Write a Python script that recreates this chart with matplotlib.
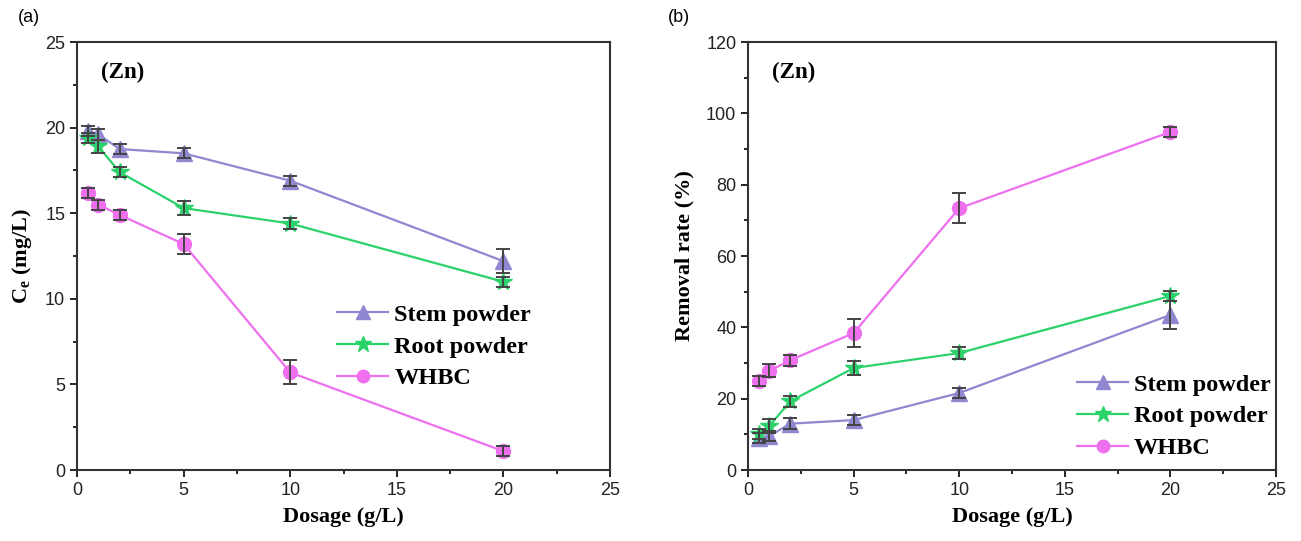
import matplotlib
matplotlib.use("Agg")
import matplotlib.pyplot as plt
from matplotlib.ticker import MultipleLocator

dosage = [0.5, 1, 2, 5, 10, 20]

ce_stem = [19.8, 19.6, 18.75, 18.5, 16.9, 12.2]
ce_stem_err = [0.3, 0.3, 0.3, 0.3, 0.3, 0.7]
ce_root = [19.4, 18.9, 17.4, 15.3, 14.4, 11.0]
ce_root_err = [0.3, 0.4, 0.3, 0.4, 0.35, 0.3]
ce_whbc = [16.2, 15.5, 14.9, 13.2, 5.7, 1.1]
ce_whbc_err = [0.3, 0.3, 0.3, 0.6, 0.7, 0.3]

rr_stem = [9.0, 9.5, 13.0, 14.0, 21.6, 43.5]
rr_stem_err = [1.5, 1.5, 1.5, 1.5, 1.5, 4.0]
rr_root = [10.1, 12.3, 19.3, 28.6, 32.8, 48.8]
rr_root_err = [1.5, 2.0, 1.5, 2.0, 1.8, 1.5]
rr_whbc = [25.0, 27.8, 30.8, 38.4, 73.4, 94.8]
rr_whbc_err = [1.5, 1.8, 1.5, 4.0, 4.2, 1.5]

labels = ["Stem powder", "Root powder", "WHBC"]

c_stem = "#8F87D0"
c_root = "#2BD26A"
c_whbc = "#EE70EE"
ecol = "#444444"

serif = ["Liberation Serif", "DejaVu Serif"]
sans = ["Liberation Sans", "DejaVu Sans"]

fig = plt.figure(figsize=(13.01, 5.41), dpi=100)
ax1 = fig.add_axes([0.0592, 0.1312, 0.4097, 0.7911])
ax2 = fig.add_axes([0.575, 0.1312, 0.4058, 0.7911])

def draw(ax, ys, errs, ylim, ymaj, ylabel):
    styles = [("^", c_stem, 11), ("*", c_root, 13), ("o", c_whbc, 10)]
    for (m, c, ms), y, e, lab in zip(styles, ys, errs, labels):
        ax.errorbar(dosage, y, yerr=e, fmt="none", ecolor=ecol, elinewidth=1.4,
                    capsize=5, capthick=1.4, zorder=3)
        ax.plot(dosage, y, color=c, lw=1.6, marker=m, ms=ms, mfc=c, mec=c,
                label=lab, zorder=2)
    ax.set_xlim(0, 25)
    ax.set_ylim(*ylim)
    ax.xaxis.set_major_locator(MultipleLocator(5))
    ax.xaxis.set_minor_locator(MultipleLocator(2.5))
    ax.yaxis.set_major_locator(MultipleLocator(ymaj))
    ax.yaxis.set_minor_locator(MultipleLocator(ymaj / 2))
    ax.tick_params(which="major", direction="out", length=5, width=1.2,
                   labelsize=13, top=False, right=False)
    ax.tick_params(which="minor", direction="out", length=3, width=1.2,
                   top=False, right=False)
    for lab in ax.get_xticklabels() + ax.get_yticklabels():
        lab.set_family(sans)
        lab.set_color("#222222")
    for s in ax.spines.values():
        s.set_linewidth(1.5)
        s.set_color("#333333")
    ax.set_xlabel("Dosage (g/L)", fontsize=16, fontweight="bold", family=serif, labelpad=6)
    ax.set_ylabel(ylabel, fontsize=16, fontweight="bold", family=serif, labelpad=8)
    ax.text(0.045, 0.93, "(Zn)", transform=ax.transAxes, fontsize=16.5,
            fontweight="bold", family=serif, va="center")

draw(ax1, [ce_stem, ce_root, ce_whbc], [ce_stem_err, ce_root_err, ce_whbc_err],
     (0, 25), 5, r"C$_\mathregular{e}$ (mg/L)")
draw(ax2, [rr_stem, rr_root, rr_whbc], [rr_stem_err, rr_root_err, rr_whbc_err],
     (0, 120), 20, "Removal rate (%)")

leg_kw = dict(frameon=False, prop={"family": serif, "weight": "bold", "size": 17.5},
              handlelength=2.1, handletextpad=0.25, labelspacing=0.4, borderpad=0.0,
              borderaxespad=0.0, markerscale=0.9)
ax1.legend(loc="upper left", bbox_to_anchor=(0.488, 0.388), **leg_kw)
ax2.legend(loc="upper left", bbox_to_anchor=(0.623, 0.225), **leg_kw)

fig.text(18 / 1301, 1 - 18 / 541, "(a)", fontsize=13, family=sans, va="center")
fig.text(668 / 1301, 1 - 18 / 541, "(b)", fontsize=13, family=sans, va="center")

fig.savefig("out.png", dpi=100, facecolor="white")
